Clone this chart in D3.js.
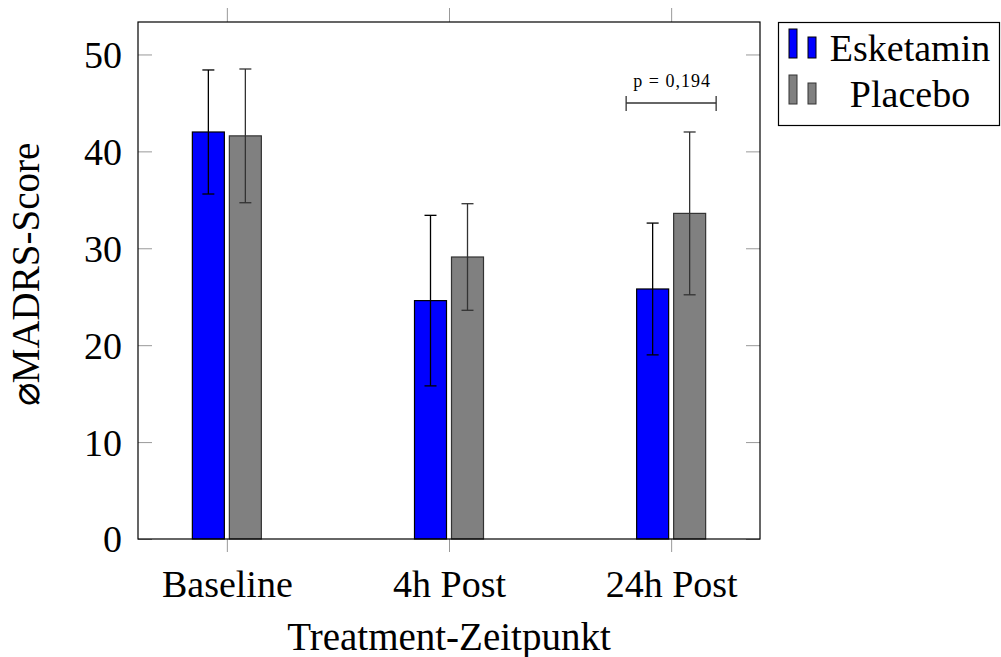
<!DOCTYPE html>
<html>
<head>
<meta charset="utf-8">
<script src="https://cdn.jsdelivr.net/npm/d3@7"></script>
<style>
  body { margin: 0; background: #fff; }
  text { font-family: "Liberation Serif", "DejaVu Serif", serif; fill: #000; }
</style>
</head>
<body>
<div id="chart"></div>
<script>
// data
const categories = ["Baseline", "4h Post", "24h Post"];
const seriesNames = ["Esketamin", "Placebo"];
const esketaminMean = [42.0, 24.6, 25.8];
const esketaminErr = [6.4, 8.8, 6.8];
const placeboMean = [41.6, 29.1, 33.6];
const placeboErr = [6.9, 5.5, 8.4];
const yTicks = [0, 10, 20, 30, 40, 50];
const pLabel = "p = 0,194";
const pCategory = 2;

const W = 1001, H = 657;
const frame = {left: 138, right: 760, top: 22, bottom: 539};

const svg = d3.select("#chart")
    .append("svg")
    .attr("width", W)
    .attr("height", H);

const x = d3.scaleLinear()
    .domain([-0.4, 2.4])
    .range([frame.left, frame.right]);

const y = d3.scaleLinear()
    .domain([0, 53.35])
    .range([frame.bottom, frame.top]);

const barW = 32, barOff = 18.5;

const series = [
    {name: seriesNames[0], mean: esketaminMean, err: esketaminErr, fill: "#0000ff", stroke: "#000", errColor: "#000", off: -barOff},
    {name: seriesNames[1], mean: placeboMean, err: placeboErr, fill: "#808080", stroke: "#333", errColor: "#333", off: barOff}
];

// axes (ticks only, frame drawn separately)
const axisStyle = g => {
    g.select(".domain").remove();
    g.selectAll(".tick line").attr("stroke", "#999");
};

svg.append("g")
    .attr("transform", `translate(${frame.left},0)`)
    .call(d3.axisLeft(y).tickValues(yTicks).tickSize(-14).tickPadding(16))
    .call(axisStyle)
    .selectAll("text")
    .attr("font-size", 38)
    .attr("font-family", "Liberation Serif")
    .attr("dy", "0.34em");

svg.append("g")
    .attr("transform", `translate(${frame.right},0)`)
    .call(d3.axisRight(y).tickValues(yTicks).tickSize(-14).tickFormat(""))
    .call(axisStyle);

svg.append("g")
    .attr("transform", `translate(0,${frame.bottom})`)
    .call(d3.axisBottom(x).tickValues([0, 1, 2]).tickSize(13).tickPadding(0).tickFormat(i => categories[i]))
    .call(axisStyle)
    .selectAll("text")
    .attr("font-size", 38)
    .attr("font-family", "Liberation Serif")
    .attr("dy", null)
    .attr("y", 58);

svg.append("g")
    .attr("transform", `translate(0,${frame.top})`)
    .call(d3.axisTop(x).tickValues([0, 1, 2]).tickSize(14).tickFormat(""))
    .call(axisStyle);

// bars
series.forEach(s => {
    svg.append("g").selectAll("rect")
        .data(s.mean)
        .enter()
        .append("rect")
        .attr("x", (d, i) => x(i) + s.off - barW / 2)
        .attr("y", d => y(d))
        .attr("width", barW)
        .attr("height", d => y(0) - y(d))
        .attr("fill", s.fill)
        .attr("stroke", s.stroke)
        .attr("stroke-width", 1.2);
});

// error bars
series.forEach(s => {
    const g = svg.append("g")
        .attr("stroke", s.errColor)
        .attr("stroke-width", 1.3);
    s.mean.forEach((m, i) => {
        const cx = x(i) + s.off;
        const hi = y(m + s.err[i]), lo = y(m - s.err[i]);
        g.append("line").attr("x1", cx).attr("x2", cx).attr("y1", hi).attr("y2", lo);
        g.append("line").attr("x1", cx - 6).attr("x2", cx + 6).attr("y1", hi).attr("y2", hi);
        g.append("line").attr("x1", cx - 6).attr("x2", cx + 6).attr("y1", lo).attr("y2", lo);
    });
});

// frame
svg.append("rect")
    .attr("x", frame.left)
    .attr("y", frame.top)
    .attr("width", frame.right - frame.left)
    .attr("height", frame.bottom - frame.top)
    .attr("fill", "none")
    .attr("stroke", "#000")
    .attr("stroke-width", 1.2);

// significance bracket
const bx0 = x(pCategory) - 45, bx1 = x(pCategory) + 45, by = 103;
const br = svg.append("g").attr("stroke", "#333").attr("stroke-width", 1.3);
br.append("line").attr("x1", bx0).attr("x2", bx1).attr("y1", by).attr("y2", by);
br.append("line").attr("x1", bx0).attr("x2", bx0).attr("y1", by - 7).attr("y2", by + 8);
br.append("line").attr("x1", bx1).attr("x2", bx1).attr("y1", by - 7).attr("y2", by + 8);
svg.append("text")
    .attr("x", x(pCategory) + 1)
    .attr("y", 87)
    .attr("text-anchor", "middle")
    .attr("font-size", 18)
    .attr("letter-spacing", 1)
    .text(pLabel);

// axis labels
svg.append("text")
    .attr("x", x(1))
    .attr("y", 650)
    .attr("text-anchor", "middle")
    .attr("font-size", 39)
    .text("Treatment-Zeitpunkt");

svg.append("text")
    .attr("transform", `translate(39,${(frame.top + frame.bottom) / 2 - 6}) rotate(-90)`)
    .attr("text-anchor", "middle")
    .attr("font-size", 39)
    .text("\u2300MADRS-Score");

// legend
const lg = svg.append("g");
lg.append("rect")
    .attr("x", 778.5).attr("y", 22.5)
    .attr("width", 221).attr("height", 103)
    .attr("fill", "#fff").attr("stroke", "#000").attr("stroke-width", 1.2);

series.forEach((s, k) => {
    const top = 29 + k * 46;
    lg.append("rect").attr("x", 789).attr("y", top).attr("width", 8).attr("height", 29)
        .attr("fill", s.fill).attr("stroke", s.stroke);
    lg.append("rect").attr("x", 808).attr("y", top + 8).attr("width", 8).attr("height", 21)
        .attr("fill", s.fill).attr("stroke", s.stroke);
    lg.append("text")
        .attr("x", 910)
        .attr("y", top + 32)
        .attr("text-anchor", "middle")
        .attr("font-size", 38)
        .text(s.name);
});
</script>
</body>
</html>
